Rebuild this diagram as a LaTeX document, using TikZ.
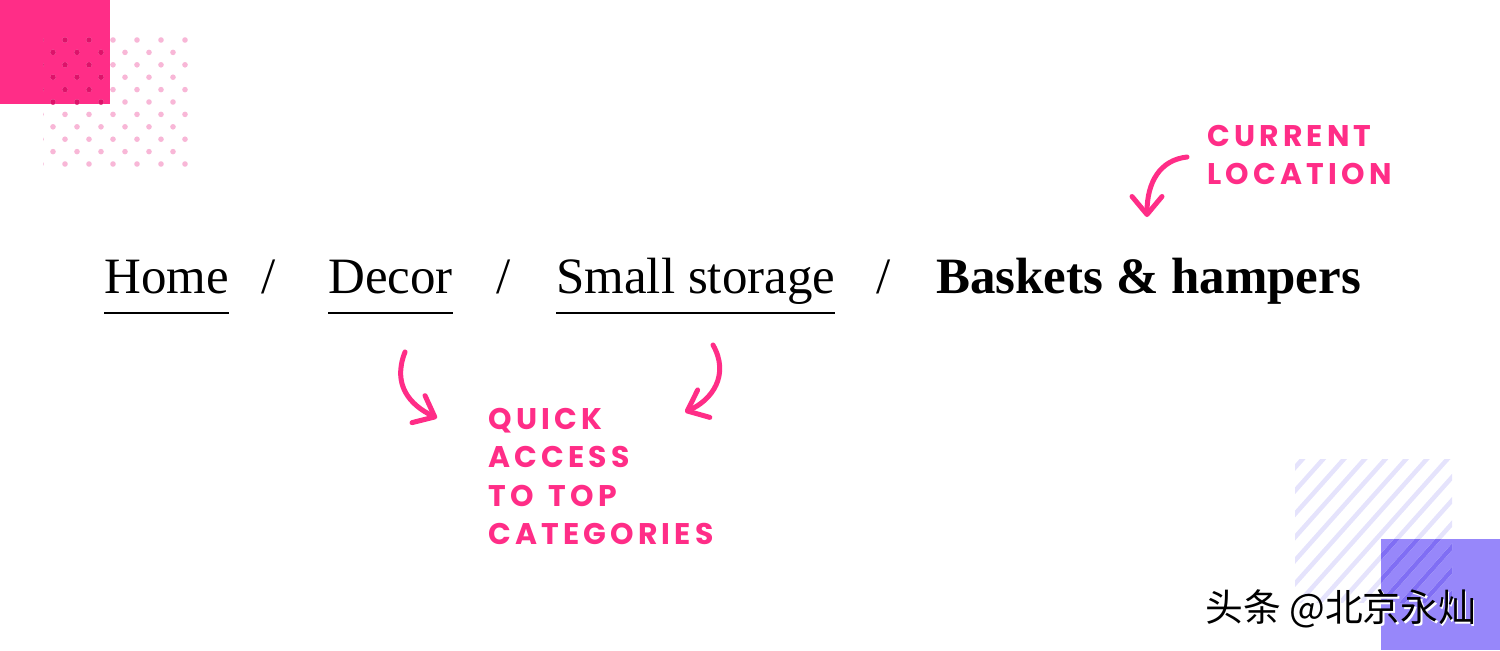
\documentclass[tikz,border=0pt]{standalone}
\usepackage{fontspec}
\setmainfont{Liberation Serif}
\newfontfamily\notefont{Poppins}[LetterSpace=14]
\newfontfamily\cjkfont{Noto Sans CJK SC}
\usetikzlibrary{arrows.meta,calc}
\definecolor{hotpink}{RGB}{255,45,135}
\definecolor{dotpink}{RGB}{248,183,215}
\definecolor{deeppink}{RGB}{222,18,106}
\definecolor{lavender}{RGB}{229,227,252}
\definecolor{boxviolet}{RGB}{151,135,250}
\definecolor{deepviolet}{RGB}{128,110,244}
\begin{document}
\begin{tikzpicture}[x=0.02cm, y=-0.02cm,
    crumb/.style={anchor=base west, inner sep=0pt, font=\fontsize{29}{34}\selectfont},
    slash/.style={anchor=base, inner sep=0pt, font=\fontsize{29}{34}\selectfont},
    uline/.style={line width=0.04cm},
    note/.style={anchor=north west, inner sep=0pt, align=left, text=hotpink,
        font=\notefont\bfseries\fontsize{17}{21.8}\selectfont},
    pointer/.style={hotpink, line width=0.1cm, line cap=round, line join=round,
        -{Straight Barb[round, length=0.36cm, width=0.6cm]}},
    stamp/.style={anchor=west, inner sep=0pt, font=\cjkfont\fontsize{21.5}{24}\selectfont}]
    \useasboundingbox (0,0) rectangle (1500,650);
    % corner decorations
    \fill[hotpink] (0,0) rectangle (110,104);
    \foreach \bx/\by/\col in {192/170/dotpink, 110/104/deeppink} {
        \begin{scope}
            \clip (43,34) rectangle (\bx,\by);
            \foreach \r in {0,...,10} {
                \pgfmathsetmacro\yy{40+12.4*\r}
                \pgfmathsetmacro\xo{mod(\r,2)==1 ? 53 : 41}
                \foreach \c in {0,...,6}
                    \fill[\col] ({\xo+24*\c},\yy) circle (2.8);
            }
        \end{scope}
    }
    \fill[boxviolet] (1381,539) rectangle (1500,650);
    \foreach \bx/\by/\col in {1295/459/lavender, 1381/539/deepviolet} {
        \begin{scope}
            \clip (\bx,\by) rectangle (1452,602);
            \foreach \i in {0,...,15}
                \draw[\col, line width=0.09cm] ({1120.6+20.7*\i},640) -- ++(180,-202);
        \end{scope}
    }
    % breadcrumb
    \node[crumb] (home) at (104,293) {Home};
    \node[slash] (sep1) at (269,293) {/};
    \node[crumb] (decor) at (328,293) {Decor};
    \node[slash] (sep2) at (504,293) {/};
    \node[crumb] (small) at (556,293) {Small storage};
    \node[slash] (sep3) at (884,293) {/};
    \node[crumb, font=\bfseries\fontsize{29}{34}\selectfont] (current) at (936,293) {Baskets \& hampers};
    \foreach \w in {home,decor,small}
        \draw[uline] ($(\w.base west)+(0,20)$) -- ($(\w.base east)+(0,20)$);
    % notes
    \node[note] (locnote) at (1207,125) {CURRENT\\LOCATION};
    \node[note] (quicknote) at (488,408) {QUICK\\ACCESS\\TO\hspace{0.5em}TOP\\CATEGORIES};
    \coordinate (locfrom) at (1187,157);
    \coordinate (locto) at (1147,217);
    \coordinate (leftfrom) at (405,352);
    \coordinate (leftto) at (437,418);
    \coordinate (rightfrom) at (713,345);
    \coordinate (rightto) at (685,412);
    \draw[pointer] (locfrom) .. controls (1160,160) and (1147,182) .. (locto);
    \draw[pointer] (leftfrom) .. controls (392,385) and (410,405) .. (leftto);
    \draw[pointer] (rightfrom) .. controls (730,375) and (712,400) .. (rightto);
    % watermark
    \node[stamp, text=white] (stampshade) at (1206.5,610.5) {头条 @北京永灿};
    \node[stamp] (stamptext) at (1205,609) {头条 @北京永灿};
\end{tikzpicture}
\end{document}
